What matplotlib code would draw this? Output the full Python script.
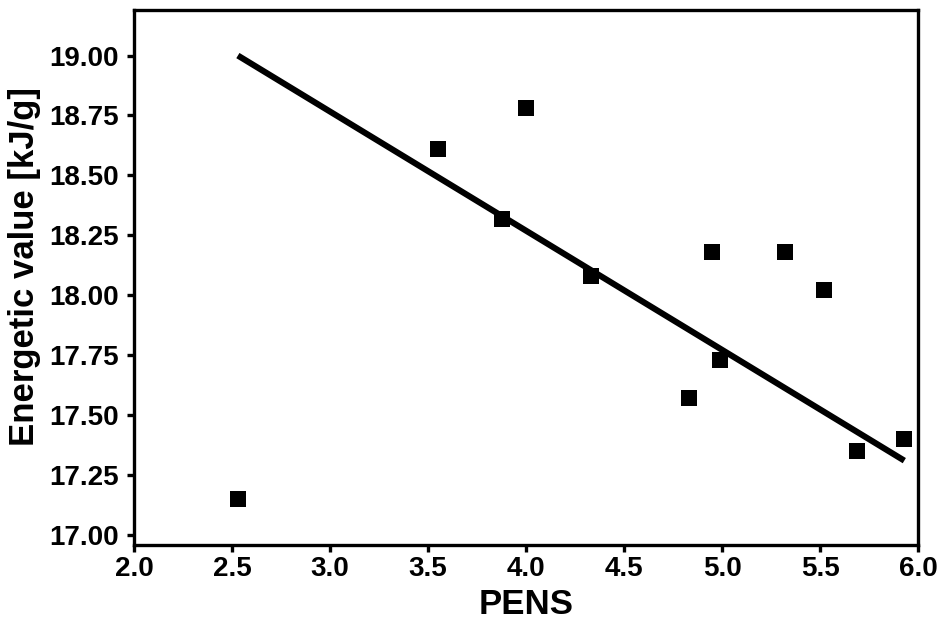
import numpy as np
import matplotlib
matplotlib.use("Agg")
import matplotlib.pyplot as plt
from matplotlib.ticker import FormatStrFormatter

plt.rcParams["font.family"] = ["Liberation Sans", "DejaVu Sans"]
plt.rcParams["font.weight"] = "bold"

# measured points
pens = [2.53, 3.55, 4.00, 3.88, 4.33, 4.83, 4.95, 4.99, 5.32, 5.52, 5.69, 5.93]
energy = [17.15, 18.61, 18.78, 18.32, 18.08, 17.57, 18.18, 17.73, 18.18, 18.02, 17.35, 17.40]

# fitted line end points
fit_x = [2.53, 5.93]
fit_y = [19.00, 17.31]

x_ticks = np.arange(2.0, 6.01, 0.5)
y_ticks = np.arange(17.0, 19.01, 0.25)

fig = plt.figure(figsize=(9.41, 6.26), dpi=100)
ax = fig.add_axes([0.1424, 0.1294, 0.8332, 0.8546])

ax.plot(fit_x, fit_y, color="black", linewidth=4.4, solid_capstyle="butt", zorder=2)
ax.scatter(pens, energy, marker="s", s=118, color="black", linewidths=0, zorder=3)

ax.set_xlim(2.0, 6.0)
ax.set_ylim(16.958, 19.19)
ax.set_xticks(x_ticks)
ax.set_yticks(y_ticks)
ax.xaxis.set_major_formatter(FormatStrFormatter("%.1f"))
ax.yaxis.set_major_formatter(FormatStrFormatter("%.2f"))

for s in ax.spines.values():
    s.set_linewidth(2.4)

ax.tick_params(direction="out", length=5, width=2.4)
ax.tick_params(axis="x", labelsize=20, pad=3)
ax.tick_params(axis="y", labelsize=20, pad=6)
for lab in ax.get_xticklabels() + ax.get_yticklabels():
    lab.set_fontweight("bold")

ax.set_xlabel("PENS", fontsize=25, fontweight="bold", labelpad=4)
ax.set_ylabel("Energetic value [kJ/g]", fontsize=25, fontweight="bold",
              va="center")
ax.yaxis.set_label_coords(-0.14, 0.52)

fig.savefig("out.png", dpi=100)
